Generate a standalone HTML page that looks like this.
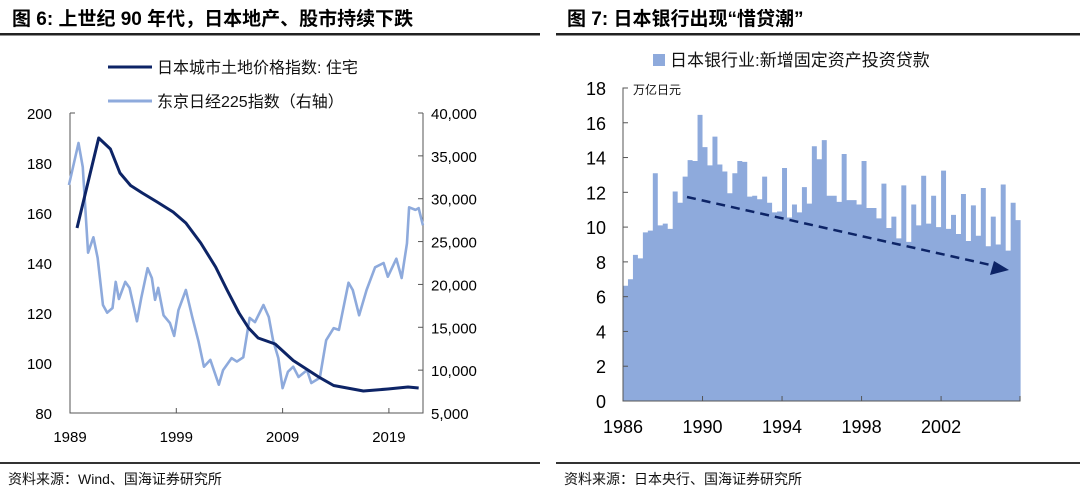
<!DOCTYPE html>
<html><head><meta charset="utf-8"><style>
body{margin:0;background:#fff;width:1080px;height:492px;overflow:hidden}
svg{display:block;font-family:"Liberation Sans","Noto Sans CJK SC",sans-serif}
</style></head><body>
<svg id="s" width="1080" height="492" viewBox="0 0 1080 492">
<text x="12" y="25" font-size="19" font-weight="bold" fill="#000">图 6:  上世纪 90 年代，日本地产、股市持续下跌</text>
<text x="567" y="25" font-size="19" font-weight="bold" fill="#000">图 7:  日本银行出现“惜贷潮”</text>
<rect x="0" y="33" width="540" height="2.5" fill="#222"/>
<rect x="556" y="33" width="524" height="2.5" fill="#222"/>
<rect x="0" y="462" width="540" height="2" fill="#333"/>
<rect x="556" y="462" width="524" height="2" fill="#333"/>
<text x="8" y="484" font-size="14" fill="#111">资料来源：Wind、国海证券研究所</text>
<text x="564" y="484" font-size="14" fill="#111">资料来源：日本央行、国海证券研究所</text>
<g id="left"></g>
<g id="right"></g>
</svg>
<script>
const landYears=[1989.66,1991.7,1992.8,1993.7,1994.7,1995.8,1997.2,1998.7,1999.9,2001.3,2002.7,2003.8,2004.9,2005.8,2006.7,2008.3,2010,2012.4,2013.8,2016.6,2018.9,2020.8,2021.8];
const landValues=[154,190,185.6,176,171,168,164.4,160.4,156,148,138.4,129,120,114,110,107.6,101,94.4,91,88.8,89.6,90.4,90];
const nikkeiYears=[1988.9,1989.8,1990.2,1990.7,1991.2,1991.6,1992.1,1992.5,1993.0,1993.3,1993.6,1994.2,1994.6,1995.3,1995.7,1996.3,1996.7,1997.0,1997.3,1997.8,1998.4,1998.8,1999.2,1999.9,2000.5,2001.1,2001.6,2002.2,2003.0,2003.4,2004.2,2004.7,2005.3,2005.9,2006.4,2007.2,2007.7,2008.1,2008.6,2009.0,2009.5,2010.0,2010.5,2011.3,2011.7,2012.5,2013.1,2013.8,2014.3,2015.2,2015.6,2016.2,2016.9,2017.7,2018.5,2018.9,2019.7,2020.2,2020.7,2020.9,2021.5,2021.8,2022.2];
const nikkeiValues=[31600,36500,33700,23700,25500,23100,17600,16700,17250,20300,18300,20300,19600,15700,18400,21900,20750,18200,19600,16400,15500,14000,17000,19350,16200,13300,10400,11200,8300,10000,11400,11000,11500,16100,15600,17600,16200,13500,11400,7900,9800,10400,9200,10000,8500,9100,13500,14900,14700,20200,19350,16400,19350,22000,22500,20900,23000,20750,24800,29000,28700,28900,26900];
const leftTicks=[80,100,120,140,160,180,200];
const rightTicks=[5000,10000,15000,20000,25000,30000,35000,40000];
const xTickYears=[1989,1999,2009,2019];
const loanValues=[6.63,7.0,8.4,8.2,9.7,9.8,13.1,10.1,10.2,9.9,12.05,11.4,12.9,13.85,13.8,16.45,14.6,13.55,15.2,13.6,13.2,11.95,13.1,13.8,13.75,11.75,11.8,11.6,12.9,11.4,10.85,10.9,13.4,10.55,11.3,10.85,12.3,11.35,14.65,13.9,15.0,11.8,11.8,11.45,14.2,11.55,11.55,11.3,13.8,11.1,11.1,10.5,12.5,9.95,10.6,9.35,12.4,9.15,11.3,10.1,12.95,10.2,11.8,10.0,13.25,9.9,10.7,9.6,11.9,9.2,11.25,9.5,12.25,8.9,10.6,9.0,12.45,8.65,11.4,10.4];
const loanTicks=[0,2,4,6,8,10,12,14,16,18];
const loanYearTicks=[1986,1990,1994,1998,2002];
const NS='http://www.w3.org/2000/svg';
function mk(p,t,a){const e=document.createElementNS(NS,t);for(const k in a)e.setAttribute(k,a[k]);p.appendChild(e);return e;}
const L=document.getElementById('left');
const lx=y=>70+(y-1989)*10.63, ly=v=>413-(v-80)*2.5, ry=v=>413-(v-5000)/35000*300;
let e=mk(L,'path',{d:'M70,113 V413 H423 V113 M70,113 h5 M423,113 h-5',fill:'none',stroke:'#555','stroke-width':1});

leftTicks.forEach(v=>{const t=mk(L,'text',{x:52,y:ly(v)+6,'font-size':15,'text-anchor':'end',fill:'#000'});t.textContent=v;
});
rightTicks.forEach(v=>{const t=mk(L,'text',{x:431,y:ry(v)+6,'font-size':15,fill:'#000'});t.textContent=v.toLocaleString('en-US');

if(v>5000&&v<40000)mk(L,'line',{x1:423,x2:418,y1:ry(v),y2:ry(v),stroke:'#555'});});
xTickYears.forEach(y=>{mk(L,'line',{x1:lx(y),x2:lx(y),y1:413,y2:408,stroke:'#555'});
const t=mk(L,'text',{x:lx(y),y:442,'font-size':15,'text-anchor':'middle',fill:'#000'});t.textContent=y;
});
e=mk(L,'polyline',{points:nikkeiYears.map((y,i)=>lx(y)+','+ry(nikkeiValues[i])).join(' '),fill:'none',stroke:'#8eaadc','stroke-width':2.6,'stroke-linejoin':'round'});

e=mk(L,'polyline',{points:landYears.map((y,i)=>lx(y)+','+ly(landValues[i])).join(' '),fill:'none',stroke:'#0d2466','stroke-width':3,'stroke-linejoin':'round'});

mk(L,'line',{x1:108,x2:152,y1:67,y2:67,stroke:'#0d2466','stroke-width':3});
e=mk(L,'text',{x:157,y:73,'font-size':16,fill:'#111'});e.textContent='日本城市土地价格指数: 住宅';

mk(L,'line',{x1:108,x2:152,y1:101,y2:101,stroke:'#8eaadc','stroke-width':3});
e=mk(L,'text',{x:157,y:107,'font-size':16,fill:'#111'});e.textContent='东京日经225指数（右轴）';

const R=document.getElementById('right');
const bx=i=>623+i*4.97, by=v=>401-v*17.39;
let d='M'+bx(0)+',401';
loanValues.forEach((v,i)=>{d+=' V'+by(v)+' H'+bx(i+1);});d+=' V401 Z';
e=mk(R,'path',{d:d,fill:'#8eaadc'});

e=mk(R,'path',{d:'M628,88 H623 V401 H1020 V396',fill:'none',stroke:'#555'});

loanTicks.forEach(v=>{if(v>0&&v<18)mk(R,'line',{x1:623,x2:628,y1:by(v),y2:by(v),stroke:'#555'});
const t=mk(R,'text',{x:606,y:by(v)+7,'font-size':18,'text-anchor':'end',fill:'#000'});t.textContent=v;
});
loanYearTicks.forEach(y=>{const x=bx((y-1986)*4);if(y>1986)mk(R,'line',{x1:x,x2:x,y1:401,y2:396,stroke:'#555'});
const t=mk(R,'text',{x:x,y:433,'font-size':18,'text-anchor':'middle',fill:'#000'});t.textContent=y;
});
e=mk(R,'text',{x:633,y:94,'font-size':12,fill:'#111'});e.textContent='万亿日元';

e=mk(R,'line',{x1:687,y1:197,x2:995,y2:266,stroke:'#0d2466','stroke-width':2.5,'stroke-dasharray':'9,6'});

mk(R,'polygon',{points:'1009,270 990,275 994,261',fill:'#0d2466'});
mk(R,'rect',{x:653,y:54,width:12,height:12,fill:'#8eaadc'});
e=mk(R,'text',{x:670,y:66,'font-size':17,fill:'#111'});e.textContent='日本银行业:新增固定资产投资贷款';

</script>
</body></html>
